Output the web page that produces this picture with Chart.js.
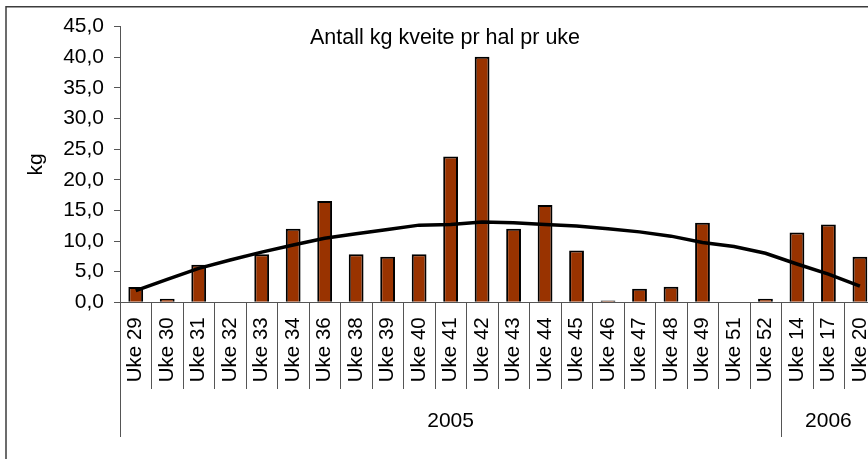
<!DOCTYPE html>
<html>
<head>
<meta charset="utf-8">
<script src="https://cdn.jsdelivr.net/npm/chart.js@4"></script>
<style>
  html, body { margin: 0; padding: 0; background: #fff; overflow: hidden; width: 868px; height: 459px; }
  #wrap { position: absolute; left: 0; top: 0; width: 900px; height: 480px; }
</style>
</head>
<body>
<div id="wrap"><canvas id="c" width="900" height="480"></canvas></div>
<script>
const chartTitle = 'Antall kg kveite pr hal pr uke';
const yAxisTitle = 'kg';
const categories = ['Uke 29','Uke 30','Uke 31','Uke 32','Uke 33','Uke 34','Uke 36','Uke 38','Uke 39','Uke 40','Uke 41','Uke 42','Uke 43','Uke 44','Uke 45','Uke 46','Uke 47','Uke 48','Uke 49','Uke 51','Uke 52','Uke 14','Uke 17','Uke 20'];
const barValues = [2.5, 0.6, 6.15, 0, 7.85, 12.0, 16.55, 7.85, 7.45, 7.85, 23.8, 40.1, 12.0, 15.9, 8.45, 0.3, 2.2, 2.55, 13.0, 0, 0.6, 11.4, 12.7, 7.45];
const trendValues = [1.9, 3.75, 5.55, 6.9, 8.2, 9.35, 10.45, 11.2, 11.9, 12.6, 12.7, 13.1, 13.0, 12.7, 12.45, 12.0, 11.5, 10.8, 9.75, 9.1, 8.0, 6.25, 4.6, 2.65];
const yTickLabels = ['0,0','5,0','10,0','15,0','20,0','25,0','30,0','35,0','40,0','45,0'];
const groupLabels = ['2005', '2006'];
const groupSizes = [21, 3];

const FONT = '"Liberation Sans", Arial, sans-serif';

const decorPlugin = {
  id: 'decor',
  beforeDraw(chart) {
    const ctx = chart.ctx;
    ctx.save();
    ctx.fillStyle = '#fff';
    ctx.fillRect(0, 0, chart.width, chart.height);
    ctx.strokeStyle = '#3c3c3c';
    ctx.lineWidth = 1.5;
    ctx.strokeRect(6, 6.75, chart.width + 20, chart.height + 20);
    ctx.restore();
  },
  afterDraw(chart) {
    const ctx = chart.ctx;
    const xs = chart.scales.x;
    const area = chart.chartArea;
    const n = categories.length;
    const step = (xs.getPixelForValue(n - 1) - xs.getPixelForValue(0)) / (n - 1);
    const boundary = k => xs.getPixelForValue(0) - step / 2 + k * step;
    const groupEdges = [0];
    groupSizes.forEach(s => groupEdges.push(groupEdges[groupEdges.length - 1] + s));
    ctx.save();
    ctx.strokeStyle = '#555';
    ctx.lineWidth = 1;
    for (let k = 0; k <= n; k++) {
      const x = Math.round(boundary(k)) + 0.5;
      const isGroup = groupEdges.includes(k);
      ctx.beginPath();
      ctx.moveTo(x, area.bottom);
      ctx.lineTo(x, isGroup ? 437 : 389);
      ctx.stroke();
    }
    ctx.fillStyle = '#000';
    ctx.font = '21px ' + FONT;
    ctx.textAlign = 'center';
    ctx.textBaseline = 'alphabetic';
    groupLabels.forEach((g, i) => {
      const cx = (boundary(groupEdges[i]) + boundary(groupEdges[i + 1])) / 2;
      ctx.fillText(g, cx, 427);
    });
    ctx.font = '21.5px ' + FONT;
    ctx.fillText(chartTitle, 445, 43.5);
    ctx.restore();
  }
};

new Chart(document.getElementById('c'), {
  data: {
    labels: categories,
    datasets: [
      {
        type: 'line',
        data: trendValues,
        borderColor: '#000',
        borderWidth: 3.5,
        pointRadius: 0,
        tension: 0,
        fill: false,
        order: 0
      },
      {
        type: 'bar',
        data: barValues,
        backgroundColor: '#993300',
        borderColor: '#000',
        borderWidth: 2,
        barPercentage: 0.47,
        categoryPercentage: 1,
        order: 1
      }
    ]
  },
  options: {
    responsive: false,
    animation: false,
    devicePixelRatio: 1,
    layout: { padding: { left: 0, top: 26.7, right: 23, bottom: 0 } },
    plugins: { legend: { display: false }, tooltip: { enabled: false }, title: { display: false } },
    scales: {
      x: {
        type: 'category',
        offset: true,
        grid: { display: false, drawTicks: false },
        border: { display: true, color: '#555', width: 1 },
        ticks: {
          autoSkip: false,
          minRotation: 90,
          maxRotation: 90,
          padding: 15,
          color: '#000',
          font: { family: FONT, size: 20.5 }
        },
        afterFit(scale) { scale.height = 480 - 302.3; }
      },
      y: {
        min: 0,
        max: 45,
        ticks: {
          stepSize: 5,
          padding: 10,
          color: '#000',
          font: { family: FONT, size: 21 },
          callback: (v, i) => yTickLabels[i]
        },
        grid: { display: true, drawOnChartArea: false, drawTicks: true, tickLength: 6, color: '#555' },
        border: { display: true, color: '#555', width: 1 },
        title: {
          display: true,
          text: yAxisTitle,
          color: '#000',
          font: { family: FONT, size: 21, lineHeight: 1.2 },
          padding: { top: 24, bottom: 0 }
        },
        afterFit(scale) { scale.width = 120; }
      }
    }
  },
  plugins: [decorPlugin]
});
</script>
</body>
</html>
